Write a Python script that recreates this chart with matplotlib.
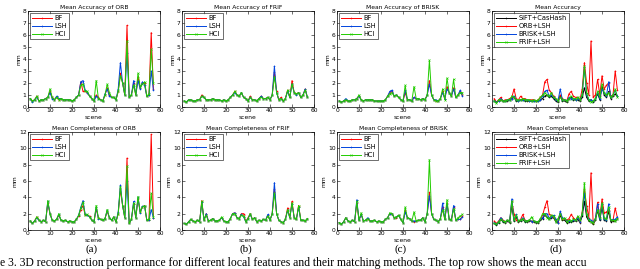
import numpy as np
import matplotlib
matplotlib.use('Agg')
import matplotlib.pyplot as plt

SCENES = list(range(1, 58))

# (a) ORB
ORB_ACC_BF = [0.7, 0.5, 0.6, 0.9, 0.5, 0.6, 0.6, 0.7, 0.8, 1.3, 0.8, 0.6, 0.8, 0.6, 0.7, 0.6, 0.6, 0.6, 0.6, 0.5,
              0.6, 0.8, 1.0, 2.1, 1.3, 1.3, 1.2, 0.9, 0.7, 0.5, 1.0, 0.8, 0.6, 0.5, 1.0, 1.6, 1.0, 0.8, 0.8, 0.6,
              1.3, 2.8, 2.0, 1.0, 6.8, 0.8, 1.0, 2.0, 1.0, 2.5, 1.6, 2.0, 2.0, 0.9, 1.0, 6.2, 1.5]
ORB_ACC_LSH = [0.7, 0.4, 0.6, 0.8, 0.5, 0.6, 0.6, 0.7, 0.8, 1.2, 0.7, 0.6, 0.9, 0.7, 0.7, 0.6, 0.6, 0.6, 0.6, 0.5,
               0.6, 0.8, 1.0, 2.1, 2.2, 1.4, 1.2, 0.9, 0.7, 0.5, 0.9, 0.7, 0.6, 0.5, 1.1, 1.5, 0.9, 0.8, 0.8, 0.6,
               1.5, 3.7, 2.0, 1.0, 4.5, 0.8, 1.0, 2.2, 1.0, 2.2, 1.5, 2.1, 1.8, 0.9, 1.0, 3.0, 1.4]
ORB_ACC_HCI = [0.7, 0.5, 0.6, 0.9, 0.5, 0.6, 0.6, 0.7, 0.8, 1.5, 0.8, 0.6, 0.8, 0.6, 0.7, 0.6, 0.6, 0.6, 0.6, 0.5,
               0.6, 0.8, 1.0, 1.8, 1.9, 1.3, 1.3, 0.9, 0.7, 0.5, 2.2, 0.7, 0.6, 0.5, 1.0, 1.9, 1.2, 0.8, 0.8, 0.6,
               1.3, 2.6, 2.0, 1.0, 5.5, 0.8, 1.0, 1.8, 1.0, 2.8, 1.7, 1.9, 2.1, 0.9, 1.1, 4.8, 2.0]
ORB_COM_BF = [1.1, 0.8, 1.1, 1.6, 1.2, 1.0, 1.2, 1.0, 3.3, 2.0, 1.2, 1.1, 1.3, 1.8, 1.2, 1.1, 1.2, 1.0, 1.1, 1.0,
              1.0, 1.3, 1.7, 2.5, 3.0, 1.8, 1.8, 1.7, 1.2, 1.0, 2.6, 1.5, 1.3, 1.2, 1.4, 2.3, 1.5, 1.2, 1.6, 1.0,
              2.0, 5.0, 3.0, 1.5, 8.8, 0.8, 1.3, 3.2, 1.5, 3.8, 2.2, 2.8, 3.0, 1.2, 1.2, 11.7, 1.5]
ORB_COM_LSH = [1.1, 0.8, 1.1, 1.5, 1.2, 1.0, 1.2, 1.0, 3.5, 2.0, 1.2, 1.1, 1.3, 1.9, 1.2, 1.1, 1.2, 1.0, 1.1, 1.0,
               1.0, 1.3, 1.8, 2.8, 3.6, 1.9, 1.8, 1.6, 1.2, 1.0, 2.8, 1.4, 1.3, 1.2, 1.4, 2.4, 1.5, 1.2, 1.6, 1.0,
               2.2, 5.5, 3.0, 1.5, 6.0, 0.8, 1.3, 3.5, 1.5, 4.0, 2.1, 2.9, 2.9, 1.2, 1.2, 2.5, 1.5]
ORB_COM_HCI = [1.1, 0.8, 1.1, 1.6, 1.2, 1.0, 1.2, 1.0, 3.6, 2.0, 1.2, 1.1, 1.3, 2.0, 1.2, 1.1, 1.2, 1.0, 1.1, 1.0,
               1.0, 1.3, 1.8, 2.7, 3.4, 1.8, 1.9, 1.6, 1.2, 1.0, 3.0, 1.5, 1.3, 1.2, 1.4, 2.5, 1.5, 1.2, 1.6, 1.0,
               2.0, 5.3, 3.0, 1.5, 7.8, 0.8, 1.3, 3.3, 1.5, 4.1, 2.2, 2.8, 3.0, 1.2, 1.3, 4.5, 1.6]

# (b) FRIF
FRIF_ACC_BF = [0.5, 0.4, 0.6, 0.6, 0.5, 0.5, 0.6, 0.6, 1.0, 0.8, 0.6, 0.6, 0.6, 0.7, 0.6, 0.6, 0.6, 0.5, 0.6, 0.5,
               0.6, 0.8, 1.0, 1.3, 1.0, 0.9, 1.2, 0.8, 0.7, 0.5, 0.9, 0.6, 0.6, 0.5, 0.7, 0.9, 0.7, 0.7, 0.8, 0.6,
               1.0, 2.9, 1.3, 0.6, 0.8, 0.5, 0.7, 1.4, 0.8, 2.2, 1.2, 1.1, 1.2, 0.8, 1.0, 1.5, 0.8]
FRIF_ACC_LSH = [0.5, 0.4, 0.6, 0.6, 0.5, 0.5, 0.6, 0.6, 0.9, 0.8, 0.6, 0.6, 0.6, 0.7, 0.6, 0.6, 0.6, 0.5, 0.6, 0.5,
                0.6, 0.8, 1.0, 1.2, 1.0, 0.9, 1.2, 0.8, 0.7, 0.5, 0.8, 0.6, 0.6, 0.5, 0.7, 0.9, 0.7, 0.7, 0.8, 0.6,
                1.0, 3.4, 1.2, 0.6, 0.7, 0.5, 0.7, 1.3, 0.8, 1.9, 1.2, 1.0, 1.2, 0.8, 1.0, 1.5, 0.8]
FRIF_ACC_HCI = [0.5, 0.4, 0.6, 0.6, 0.5, 0.5, 0.6, 0.6, 0.9, 0.8, 0.6, 0.6, 0.6, 0.7, 0.6, 0.6, 0.6, 0.5, 0.6, 0.5,
                0.6, 0.8, 1.0, 1.3, 1.0, 0.9, 1.2, 0.8, 0.7, 0.5, 0.8, 0.6, 0.6, 0.5, 0.7, 0.8, 0.7, 0.7, 0.8, 0.6,
                1.0, 2.5, 1.2, 0.6, 0.7, 0.5, 0.7, 1.4, 0.8, 1.9, 1.2, 1.1, 1.2, 0.8, 1.0, 1.4, 0.8]
FRIF_COM_BF = [0.8, 0.7, 1.0, 1.3, 1.1, 1.0, 1.2, 1.0, 3.6, 1.2, 2.0, 1.1, 1.2, 1.4, 1.1, 1.1, 1.2, 1.5, 1.1, 1.0,
               1.0, 1.4, 2.0, 2.1, 1.5, 1.4, 2.0, 2.0, 1.0, 1.5, 2.0, 1.3, 1.5, 1.0, 1.2, 1.1, 1.3, 1.2, 1.8, 1.2,
               2.0, 5.0, 2.0, 1.2, 1.0, 0.9, 1.3, 2.7, 1.5, 3.5, 1.5, 1.3, 3.0, 1.2, 1.2, 1.1, 1.4]
FRIF_COM_LSH = [0.8, 0.7, 1.0, 1.3, 1.1, 1.0, 1.2, 1.0, 3.4, 1.2, 2.0, 1.1, 1.2, 1.4, 1.1, 1.1, 1.2, 1.5, 1.1, 1.0,
                1.0, 1.4, 2.0, 2.1, 1.5, 1.4, 1.9, 1.6, 1.0, 1.4, 1.9, 1.3, 1.5, 1.0, 1.2, 1.1, 1.3, 1.2, 1.9, 1.2,
                2.0, 5.8, 2.0, 1.2, 1.0, 0.9, 1.3, 2.4, 1.5, 3.2, 1.5, 1.3, 2.8, 1.2, 1.2, 1.1, 1.4]
FRIF_COM_HCI = [0.8, 0.7, 1.0, 1.3, 1.1, 1.0, 1.2, 1.0, 3.5, 1.2, 1.8, 1.1, 1.2, 1.4, 1.1, 1.1, 1.2, 1.6, 1.1, 1.0,
                1.0, 1.4, 2.0, 2.0, 1.5, 1.4, 1.8, 1.7, 1.0, 1.4, 2.0, 1.3, 1.5, 1.0, 1.2, 1.1, 1.3, 1.2, 1.7, 1.2,
                2.0, 4.5, 2.0, 1.2, 1.0, 0.9, 1.3, 2.5, 1.5, 3.3, 1.5, 1.3, 3.0, 1.2, 1.2, 1.1, 1.4]

# (c) BRISK
BRISK_ACC_BF = [0.5, 0.4, 0.5, 0.6, 0.5, 0.5, 0.6, 0.6, 0.7, 0.9, 0.6, 0.5, 0.6, 0.6, 0.6, 0.6, 0.5, 0.5, 0.5, 0.5,
                0.5, 0.6, 0.9, 1.2, 1.3, 0.9, 1.0, 0.8, 0.6, 0.5, 1.2, 0.6, 0.6, 0.5, 0.8, 0.7, 0.7, 0.6, 0.7, 0.6,
                1.0, 2.2, 1.0, 0.6, 0.5, 0.5, 0.7, 1.3, 0.7, 1.7, 1.2, 0.9, 1.6, 0.8, 1.0, 1.3, 1.0]
BRISK_ACC_LSH = [0.5, 0.4, 0.5, 0.7, 0.5, 0.5, 0.6, 0.6, 0.7, 0.9, 0.6, 0.5, 0.6, 0.6, 0.6, 0.6, 0.5, 0.5, 0.5, 0.5,
                 0.5, 0.6, 0.9, 1.3, 1.4, 0.9, 1.0, 0.8, 0.6, 0.5, 1.4, 0.6, 0.6, 0.5, 0.8, 0.7, 0.7, 0.6, 0.7, 0.6,
                 1.0, 1.9, 1.0, 0.6, 0.6, 0.5, 0.7, 1.2, 0.7, 1.5, 1.2, 0.9, 1.5, 0.8, 1.0, 1.4, 0.9]
BRISK_ACC_HCI = [0.5, 0.4, 0.5, 0.6, 0.5, 0.5, 0.6, 0.6, 0.7, 1.0, 0.6, 0.5, 0.6, 0.6, 0.6, 0.6, 0.5, 0.5, 0.5, 0.5,
                 0.5, 0.6, 0.9, 1.1, 1.2, 0.9, 1.0, 0.8, 0.6, 0.5, 1.8, 0.6, 0.6, 0.5, 1.7, 0.7, 0.7, 0.6, 0.7, 0.6,
                 1.0, 3.9, 1.0, 0.6, 0.5, 0.5, 0.7, 1.5, 0.6, 2.4, 1.2, 0.9, 2.3, 0.8, 1.0, 1.2, 1.2]
BRISK_COM_BF = [0.9, 0.7, 1.0, 1.5, 1.1, 1.0, 1.2, 1.0, 3.3, 1.2, 1.9, 1.1, 1.2, 1.4, 1.1, 1.1, 1.2, 1.0, 1.1, 1.0,
                1.0, 1.3, 1.5, 2.0, 2.0, 1.5, 1.5, 1.8, 1.3, 0.9, 2.4, 1.5, 1.4, 1.1, 1.0, 1.1, 1.2, 1.2, 1.5, 1.0,
                2.0, 4.6, 2.0, 1.3, 1.2, 1.0, 1.4, 2.8, 1.3, 3.3, 1.3, 1.2, 2.8, 1.2, 1.3, 1.3, 1.7]
BRISK_COM_LSH = [0.9, 0.7, 1.0, 1.5, 1.1, 1.0, 1.2, 1.0, 3.7, 1.2, 1.9, 1.1, 1.2, 1.5, 1.1, 1.1, 1.2, 1.0, 1.1, 1.0,
                 1.0, 1.3, 1.5, 2.0, 2.0, 1.5, 1.6, 1.8, 1.3, 0.9, 2.2, 1.5, 1.4, 1.1, 1.1, 1.1, 1.2, 1.2, 1.5, 1.0,
                 2.0, 4.2, 2.0, 1.3, 1.2, 1.0, 1.4, 3.3, 1.3, 3.2, 1.3, 1.2, 3.0, 1.2, 1.3, 1.3, 1.6]
BRISK_COM_HCI = [0.9, 0.7, 1.0, 1.5, 1.1, 1.0, 1.2, 1.0, 3.5, 1.2, 2.1, 1.1, 1.2, 1.4, 1.1, 1.1, 1.2, 1.0, 1.1, 1.0,
                 1.0, 1.3, 1.5, 2.1, 2.0, 1.5, 1.6, 1.8, 1.3, 0.9, 2.8, 1.5, 1.4, 1.1, 2.2, 1.1, 1.2, 1.2, 1.5, 1.0,
                 2.0, 8.6, 2.0, 1.3, 1.2, 1.0, 1.4, 2.5, 1.3, 3.7, 1.3, 1.2, 2.6, 1.2, 1.5, 1.7, 1.9]

# (d) comparison
CMP_ACC_SIFT = [0.5, 0.4, 0.5, 0.6, 0.5, 0.5, 0.5, 0.6, 0.7, 0.8, 0.5, 0.5, 0.6, 0.6, 0.5, 0.5, 0.5, 0.5, 0.5, 0.5,
                0.5, 0.6, 0.7, 0.9, 1.0, 0.8, 0.9, 0.7, 0.5, 0.4, 0.9, 0.5, 0.5, 0.4, 0.7, 0.8, 0.6, 0.6, 0.6, 0.5,
                0.8, 1.6, 0.8, 0.5, 0.6, 0.4, 0.6, 1.1, 0.6, 1.7, 1.0, 0.8, 1.3, 0.7, 0.9, 1.1, 0.9]
CMP_ACC_ORB = [0.7, 0.4, 0.6, 0.8, 0.5, 0.6, 0.6, 0.7, 0.8, 1.5, 0.7, 0.6, 0.9, 0.7, 0.7, 0.6, 0.6, 0.6, 0.6, 0.5,
               0.6, 0.8, 1.0, 2.1, 2.3, 1.4, 1.2, 0.9, 0.7, 0.5, 1.0, 0.7, 0.6, 0.5, 1.1, 1.3, 0.9, 0.8, 0.8, 0.6,
               1.5, 3.7, 2.0, 1.0, 5.5, 0.8, 1.0, 2.3, 1.0, 2.6, 1.5, 1.8, 2.0, 0.9, 1.0, 3.0, 1.4]
CMP_ACC_BRISK = [0.5, 0.4, 0.5, 0.7, 0.5, 0.5, 0.6, 0.6, 0.7, 0.9, 0.6, 0.5, 0.6, 0.6, 0.6, 0.6, 0.5, 0.5, 0.5, 0.5,
                 0.5, 0.6, 0.9, 1.3, 1.4, 0.9, 1.0, 0.8, 0.6, 0.5, 1.5, 0.6, 0.6, 0.5, 0.8, 0.7, 0.7, 0.6, 0.7, 0.6,
                 1.0, 3.3, 1.0, 0.6, 0.6, 0.5, 0.7, 1.2, 0.7, 1.5, 1.2, 0.9, 2.1, 0.8, 1.0, 1.4, 0.9]
CMP_ACC_FRIF = [0.5, 0.3, 0.6, 0.6, 0.5, 0.5, 0.6, 0.6, 0.9, 0.8, 0.6, 0.6, 0.6, 0.7, 0.6, 0.6, 0.6, 0.5, 0.6, 0.5,
                0.6, 0.8, 1.0, 1.2, 1.0, 0.9, 1.2, 0.8, 0.7, 0.5, 0.8, 0.6, 0.6, 0.5, 0.7, 0.9, 0.7, 0.7, 0.8, 0.6,
                1.0, 3.4, 1.2, 0.6, 0.4, 0.5, 0.7, 1.3, 0.8, 1.9, 1.2, 1.0, 1.2, 0.8, 1.0, 1.5, 0.8]
CMP_COM_SIFT = [0.8, 0.6, 0.9, 1.3, 1.0, 0.9, 1.1, 0.9, 3.0, 1.1, 1.6, 1.0, 1.1, 1.3, 1.0, 1.0, 1.1, 1.1, 1.0, 0.9,
                0.9, 1.2, 1.4, 1.8, 1.6, 1.3, 1.5, 1.5, 1.0, 0.9, 1.8, 1.2, 1.2, 0.9, 1.0, 1.0, 1.1, 1.1, 1.3, 0.9,
                1.7, 3.5, 1.6, 1.1, 1.0, 0.7, 1.2, 2.4, 1.2, 2.8, 1.2, 1.1, 2.3, 1.0, 1.1, 1.1, 1.3]
CMP_COM_ORB = [1.1, 0.8, 1.1, 1.5, 1.2, 1.0, 1.2, 1.0, 3.5, 2.0, 1.2, 1.1, 1.3, 1.9, 1.2, 1.1, 1.2, 1.0, 1.1, 1.0,
               1.0, 1.3, 1.8, 2.8, 3.6, 1.9, 1.8, 1.6, 1.2, 1.0, 2.0, 1.4, 1.3, 1.2, 1.4, 1.9, 1.5, 1.2, 1.6, 1.0,
               2.2, 5.0, 3.0, 1.5, 7.0, 0.8, 1.3, 3.4, 1.5, 3.8, 2.1, 2.2, 2.5, 1.2, 1.2, 2.7, 1.5]
CMP_COM_BRISK = [0.9, 0.7, 1.0, 1.5, 1.1, 1.0, 1.2, 1.0, 3.8, 1.2, 1.9, 1.1, 1.2, 1.5, 1.1, 1.1, 1.2, 1.0, 1.1, 1.0,
                 1.0, 1.3, 1.5, 2.0, 2.0, 1.5, 1.6, 1.8, 1.3, 0.9, 2.3, 1.5, 1.4, 1.1, 1.1, 1.1, 1.2, 1.2, 1.5, 1.0,
                 2.0, 4.5, 2.0, 1.3, 1.2, 1.0, 1.4, 3.2, 1.3, 3.2, 1.3, 1.2, 3.2, 1.2, 1.3, 1.3, 1.6]
CMP_COM_FRIF = [0.8, 0.7, 1.0, 1.3, 1.1, 1.0, 1.2, 1.0, 3.5, 1.2, 1.8, 1.1, 1.2, 1.4, 1.1, 1.1, 1.2, 1.6, 1.1, 1.0,
                1.0, 1.4, 2.0, 2.0, 1.5, 1.4, 1.8, 1.7, 1.0, 1.4, 2.0, 1.3, 1.5, 1.0, 1.2, 1.1, 1.3, 1.2, 1.7, 1.2,
                2.0, 5.8, 2.0, 1.2, 1.0, 0.9, 1.3, 2.5, 1.5, 3.3, 1.5, 1.3, 2.8, 1.2, 1.2, 1.1, 1.4]

MATCH_LABELS = ['BF', 'LSH', 'HCI']
CMP_LABELS = ['SIFT+CasHash', 'ORB+LSH', 'BRISK+LSH', 'FRIF+LSH']
SUB_LABELS = ['(a)', '(b)', '(c)', '(d)']
# only the part of the caption that is visible in the cropped figure
CAPTION = ('e 3. 3D reconstruction performance for different local features and their matching methods. '
           'The top row shows the mean accu')

STYLE3 = [dict(color='#ff0000', marker='.'), dict(color='#0044dd', marker='+'), dict(color='#22cc00', marker='x')]
STYLE4 = [dict(color='k', marker='.'), dict(color='#ff0000', marker='.'),
          dict(color='#0044dd', marker='+'), dict(color='#22cc00', marker='x')]

panels = [
    ('Mean Accuracy of ORB', [ORB_ACC_BF, ORB_ACC_LSH, ORB_ACC_HCI], MATCH_LABELS, STYLE3, 8),
    ('Mean Accuracy of FRIF', [FRIF_ACC_BF, FRIF_ACC_LSH, FRIF_ACC_HCI], MATCH_LABELS, STYLE3, 8),
    ('Mean Accuracy of BRISK', [BRISK_ACC_BF, BRISK_ACC_LSH, BRISK_ACC_HCI], MATCH_LABELS, STYLE3, 8),
    ('Mean Accuracy', [CMP_ACC_SIFT, CMP_ACC_ORB, CMP_ACC_BRISK, CMP_ACC_FRIF], CMP_LABELS, STYLE4, 8),
    ('Mean Completeness of ORB', [ORB_COM_BF, ORB_COM_LSH, ORB_COM_HCI], MATCH_LABELS, STYLE3, 12),
    ('Mean Completeness of FRIF', [FRIF_COM_BF, FRIF_COM_LSH, FRIF_COM_HCI], MATCH_LABELS, STYLE3, 12),
    ('Mean Completeness of BRISK', [BRISK_COM_BF, BRISK_COM_LSH, BRISK_COM_HCI], MATCH_LABELS, STYLE3, 12),
    ('Mean Completeness', [CMP_COM_SIFT, CMP_COM_ORB, CMP_COM_BRISK, CMP_COM_FRIF], CMP_LABELS, STYLE4, 12),
]

FS = 4.3
fig = plt.figure(figsize=(6.4, 2.69), dpi=100)
lefts = [28, 182, 337, 492]
for i, (title, series, labels, styles, ymax) in enumerate(panels):
    row, col = divmod(i, 4)
    if row == 0:
        rect = [lefts[col] / 640, 1 - 107 / 269, 132 / 640, 96 / 269]
    else:
        rect = [lefts[col] / 640, 1 - 230 / 269, 132 / 640, 98 / 269]
    ax = fig.add_axes(rect)
    for vals, lab, st in zip(series, labels, styles):
        ax.plot(SCENES, vals, lw=0.7, ms=1.5, mew=0.4, label=lab, **st)
    ax.set_xlim(0, 60)
    ax.set_ylim(0, ymax)
    ax.set_xticks(range(0, 61, 10))
    ax.set_yticks(range(0, ymax + 1, 1 if ymax == 8 else 2))
    ax.tick_params(direction='in', length=2, width=0.4, labelsize=FS, pad=1, top=True, right=True)
    for s in ax.spines.values():
        s.set_linewidth(0.5)
    ax.set_title(title, fontsize=FS, pad=1.5)
    ax.set_xlabel('scene', fontsize=FS, labelpad=1)
    ax.set_ylabel('mm', fontsize=FS, labelpad=1)
    leg = ax.legend(loc='upper left', fontsize=4.8, frameon=True, fancybox=False, edgecolor='k',
                    handlelength=3, borderpad=0.3, labelspacing=0.3, handletextpad=0.4, borderaxespad=0.3)
    leg.get_frame().set_linewidth(0.5)
    if row == 1:
        fig.text((lefts[col] + 64) / 640, 1 - 249 / 269, SUB_LABELS[col], ha='center', va='center',
                 fontsize=8, family='Liberation Serif')

fig.text(0.0, 1 - 263 / 269, CAPTION, ha='left', va='center', fontsize=8.4, family='Liberation Serif')
fig.savefig('out.png', dpi=100)
